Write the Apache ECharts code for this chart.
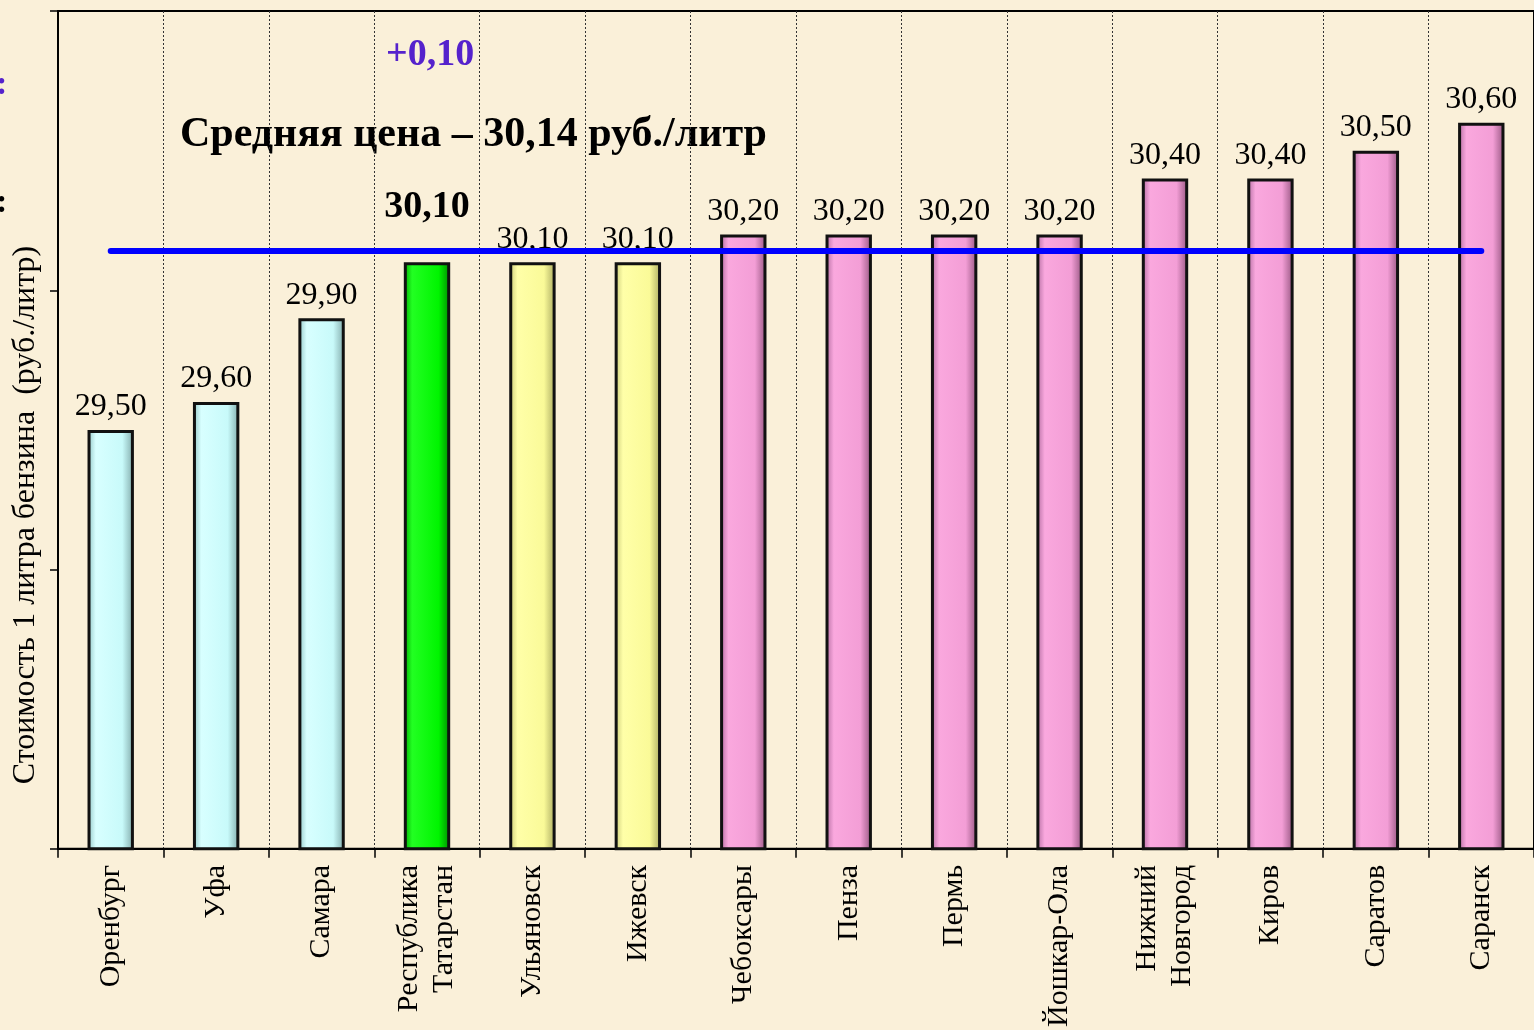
<!DOCTYPE html>
<html><head><meta charset="utf-8">
<script src="https://cdn.jsdelivr.net/npm/echarts@6/dist/echarts.min.js"></script>
<style>html,body{margin:0;padding:0;background:#FAF0D9;}#c{width:1534px;height:1030px;}</style>
</head><body><div id="c"></div>
<script>
var categories = ['Оренбург','Уфа','Самара','Республика\nТатарстан','Ульяновск','Ижевск','Чебоксары','Пенза','Пермь','Йошкар-Ола','Нижний\nНовгород','Киров','Саратов','Саранск'];
var prices = [29.50, 29.60, 29.90, 30.10, 30.10, 30.10, 30.20, 30.20, 30.20, 30.20, 30.40, 30.40, 30.50, 30.60];
var groups = ['low','low','low','tat','mid','mid','high','high','high','high','high','high','high','high'];
var averagePrice = 30.14;
var tatarstanChange = '+0,10';
var yTicks = [28, 29, 30, 31];
var yAxisTitle = 'Стоимость 1 литра бензина  (руб./литр)';

var palette = {
  low:  ['#8FC4C4','#D8FFFF','#C8FAFA','#7FA8A8'],
  tat:  ['#00A800','#22FF22','#00F500','#008A00'],
  mid:  ['#C8C878','#FFFFA8','#FAFA98','#A8A860'],
  high: ['#B06A9E','#FAA8DE','#F39ED6','#94547F']
};
function grad(g){
  var p = palette[g];
  return {type:'linear',x:0,y:0,x2:1,y2:0,colorStops:[
    {offset:0,color:p[0]},{offset:0.18,color:p[1]},{offset:0.75,color:p[2]},{offset:1,color:p[3]}]};
}
function fmt(v){ return v.toFixed(2).replace('.', ','); }

var data = prices.map(function(v,i){
  var item = {value:v, itemStyle:{color:grad(groups[i])}};
  if (groups[i]==='tat') {
    item.label = {fontWeight:'bold', fontSize:38, distance:36};
  }
  return item;
});

var chart = echarts.init(document.getElementById('c'), null, {renderer:'canvas'});
var serif = '"Liberation Serif","Times New Roman",serif';
chart.setOption({
  backgroundColor:'#FAF0D9',
  animation:false,
  grid:{left:58, top:11, width:1482, height:840, show:true, borderColor:'#000', borderWidth:2, backgroundColor:'transparent'},
  xAxis:{
    type:'category', data:categories,
    axisLine:{lineStyle:{color:'#000', width:2}},
    axisTick:{show:true, length:9, lineStyle:{color:'#000', width:1.5}},
    splitLine:{show:true, lineStyle:{color:'#333', type:[2,2], width:1}},
    axisLabel:{rotate:90, margin:16, fontFamily:serif, fontSize:30, color:'#000', lineHeight:35, interval:0}
  },
  yAxis:{
    type:'value', min:yTicks[0], max:yTicks[yTicks.length-1], interval:1,
    axisLine:{show:true, lineStyle:{color:'#000', width:2}},
    axisTick:{show:true, length:8, lineStyle:{color:'#000', width:1.5}},
    axisLabel:{show:false},
    splitLine:{show:false}
  },
  series:[{
    type:'bar', data:data, barWidth:'44%',
    itemStyle:{borderColor:'#111', borderWidth:3},
    label:{show:true, position:'top', distance:7, fontFamily:serif, fontSize:32, color:'#000',
      formatter:function(p){return fmt(p.value);}},
    markLine:{
      silent:true, symbol:['none','none'],
      lineStyle:{color:'#0000FF', width:6, type:'solid', cap:'round'},
      label:{show:false},
      data:[[{xAxis:0, yAxis:averagePrice},{xAxis:categories.length-1, yAxis:averagePrice}]]
    },
    z:3
  }],
  graphic:[
    {type:'text', x:180, y:135, style:{text:'Средняя цена – ' + fmt(averagePrice) + ' руб./литр', fontFamily:serif, fontWeight:'bold', fontSize:42, fill:'#000', textVerticalAlign:'middle'}},
    {type:'text', x:386, y:55, style:{text:tatarstanChange, fontFamily:serif, fontWeight:'bold', fontSize:38, fill:'#5522CC', textVerticalAlign:'middle'}},
    {type:'text', x:26, y:515, rotation:Math.PI/2, style:{text:yAxisTitle, fontFamily:serif, fontSize:32, fill:'#000', textAlign:'center', textVerticalAlign:'middle'}},
    {type:'text', left:-4, top:68, style:{text:':', fontFamily:serif, fontWeight:'bold', fontSize:34, fill:'#5522CC'}},
    {type:'text', left:-4, top:186, style:{text:':', fontFamily:serif, fontWeight:'bold', fontSize:34, fill:'#000'}}
  ]
});
</script></body></html>
